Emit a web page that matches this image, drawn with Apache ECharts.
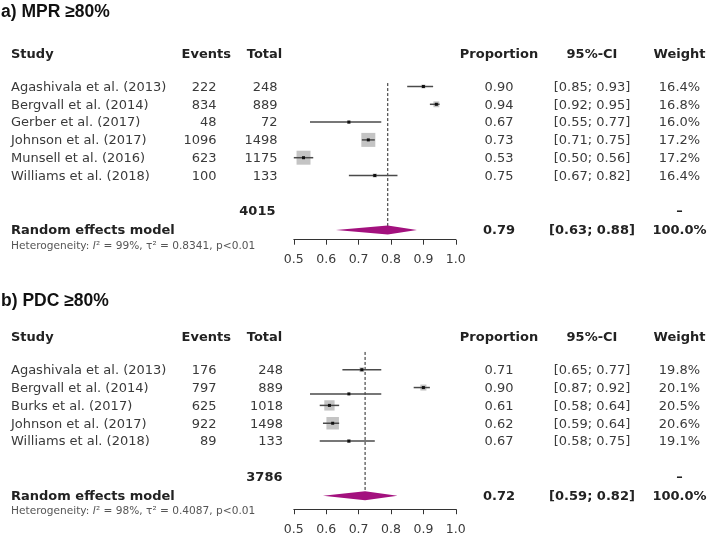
<!DOCTYPE html>
<html><head><meta charset="utf-8">
<script src="https://cdn.jsdelivr.net/npm/echarts@6/dist/echarts.min.js"></script>
<style>html,body{margin:0;padding:0;background:#fff}#c{width:709px;height:537px}</style>
</head><body><div id="c"></div>
<script>
// ---------- DATA (panel a: MPR >= 80%) ----------
const mprStudies = ['Agashivala et al. (2013)', 'Bergvall et al. (2014)', 'Gerber et al. (2017)', 'Johnson et al. (2017)', 'Munsell et al. (2016)', 'Williams et al. (2018)'];
const mprEvents = [222, 834, 48, 1096, 623, 100];
const mprTotals = [248, 889, 72, 1498, 1175, 133];
const mprProp = [0.90, 0.94, 0.67, 0.73, 0.53, 0.75];
const mprLower = [0.85, 0.92, 0.55, 0.71, 0.50, 0.67];
const mprUpper = [0.93, 0.95, 0.77, 0.75, 0.56, 0.82];
const mprWeight = [16.4, 16.8, 16.0, 17.2, 17.2, 16.4];
const mprModel = [0.79, 0.63, 0.88];       // estimate, lower, upper
const mprTotalN = 4015;
const mprHet = ['99%', '0.8341', 'p<0.01'];

// ---------- DATA (panel b: PDC >= 80%) ----------
const pdcStudies = ['Agashivala et al. (2013)', 'Bergvall et al. (2014)', 'Burks et al. (2017)', 'Johnson et al. (2017)', 'Williams et al. (2018)'];
const pdcEvents = [176, 797, 625, 922, 89];
const pdcTotals = [248, 889, 1018, 1498, 133];
const pdcProp = [0.71, 0.90, 0.61, 0.62, 0.67];
const pdcLower = [0.65, 0.87, 0.58, 0.59, 0.58];
const pdcUpper = [0.77, 0.92, 0.64, 0.64, 0.75];
const pdcWeight = [19.8, 20.1, 20.5, 20.6, 19.1];
const pdcModel = [0.72, 0.59, 0.82];
const pdcTotalN = 3786;
const pdcHet = ['98%', '0.4087', 'p<0.01'];
// stray interval visible in the reference image of panel b
const pdcStray = [0.67, 0.55, 0.77];

const axisTicks = [0.5, 0.6, 0.7, 0.8, 0.9, 1.0];

// ---------- LAYOUT ----------
const FONT = "'DejaVu Sans', Verdana, sans-serif";
const TXT = '#3a3a3a';
const HDR = '#222';
const panels = [
  { title: 'a) MPR \u226580%', titleTop: 3, studies: mprStudies, events: mprEvents, totals: mprTotals,
    prop: mprProp, lower: mprLower, upper: mprUpper, weight: mprWeight, model: mprModel,
    totalN: mprTotalN, het: mprHet, row0: 87.5, step: 17.8, yMax: 8.55, maxSide: 14,
    totalRight: 277.5, totalNRight: 275.5, dashStart: -0.25, stray: null },
  { title: 'b) PDC \u226580%', titleTop: 292, studies: pdcStudies, events: pdcEvents, totals: pdcTotals,
    prop: pdcProp, lower: pdcLower, upper: pdcUpper, weight: pdcWeight, model: pdcModel,
    totalN: pdcTotalN, het: pdcHet, row0: 370.7, step: 17.85, yMax: 7.76, maxSide: 12.5,
    totalRight: 283, totalNRight: 282.5, dashStart: -1.05, stray: pdcStray, strayRow: 1.3 }
];
const YMIN = -3;
const PLOT_LEFT = 293.8, PLOT_W = 162;
const X_STUDY = 11, X_EVENTS_R = 216.5, X_EVENTS_H = 206.3, X_TOTAL_H = 264.5;
const X_PROP = 499, X_CI = 592, X_WEIGHT = 679.5;

function txt(x, y, s, align, bold, size, color) {
  return { type: 'text', style: { x: x, y: y, text: s, align: align, verticalAlign: 'middle',
    font: (bold ? 'bold ' : '') + (size || 13) + 'px ' + FONT, fill: color || (bold ? HDR : TXT) } };
}
function ci(lo, hi) { return '[' + lo.toFixed(2) + '; ' + hi.toFixed(2) + ']'; }

const grids = [], xAxes = [], yAxes = [], series = [], titles = [];
panels.forEach(function (P, k) {
  const n = P.studies.length;
  const gTop = P.row0 + YMIN * P.step;
  grids.push({ left: PLOT_LEFT, width: PLOT_W, top: gTop, height: (P.yMax - YMIN) * P.step });
  xAxes.push({ gridIndex: k, type: 'value', min: axisTicks[0], max: axisTicks[axisTicks.length - 1], interval: 0.1,
    position: 'bottom',
    axisLine: { show: true, onZero: false, lineStyle: { color: '#333', width: 1 } },
    axisTick: { show: true, inside: false, length: 5, lineStyle: { color: '#333', width: 1 } },
    axisLabel: { show: true, margin: 14, fontFamily: FONT, fontSize: 12.5, color: TXT,
      showMinLabel: true, showMaxLabel: true, formatter: function (v) { return v.toFixed(1); } },
    splitLine: { show: false } });
  yAxes.push({ gridIndex: k, type: 'value', inverse: true, min: YMIN, max: P.yMax, show: false });
  titles.push({ text: P.title, left: 1, top: P.titleTop, padding: 0,
    textStyle: { fontFamily: "'Liberation Sans', Arial, sans-serif", fontWeight: 'bold', fontSize: 17.5, color: '#111' } });

  // box sizes from inverse-variance (n p (1-p)) of each study
  const w = P.events.map(function (e, i) { const p = e / P.totals[i]; return P.totals[i] * p * (1 - p); });
  const wMax = Math.max.apply(null, w);
  const sides = w.map(function (v) { return P.maxSide * Math.sqrt(v / wMax); });

  // panel-level items: header, dashed line, totals, diamond, model row
  series.push({ type: 'custom', xAxisIndex: k, yAxisIndex: k, clip: false, z: 1,
    data: [[P.model[0], P.model[1], P.model[2], n + 2]],
    renderItem: function (params, api) {
      const est = api.value(0), lo = api.value(1), hi = api.value(2), mRow = api.value(3);
      const c = api.coord([est, mRow]), cl = api.coord([lo, mRow]), ch = api.coord([hi, mRow]);
      const top = api.coord([est, P.dashStart]);
      const yH = api.coord([est, -1.85])[1];
      const yT = api.coord([est, n + 1])[1];
      const h = 4.5;
      const ch2 = [];
      ch2.push({ type: 'line', shape: { x1: c[0], y1: top[1], x2: c[0], y2: c[1] },
        style: { stroke: '#222', lineWidth: 1, lineDash: [3, 2] } });
      ch2.push({ type: 'polygon', shape: { points: [[cl[0], c[1]], [c[0], c[1] - h], [ch[0], c[1]], [c[0], c[1] + h]] },
        style: { fill: '#a3117e', stroke: null } });
      // header
      ch2.push(txt(X_STUDY, yH, 'Study', 'left', true));
      ch2.push(txt(X_EVENTS_H, yH, 'Events', 'center', true));
      ch2.push(txt(X_TOTAL_H, yH, 'Total', 'center', true));
      ch2.push(txt(X_PROP, yH, 'Proportion', 'center', true));
      ch2.push(txt(X_CI, yH, '95%-CI', 'center', true));
      ch2.push(txt(X_WEIGHT, yH, 'Weight', 'center', true));
      // totals row
      ch2.push(txt(P.totalNRight, yT, String(P.totalN), 'right', true));
      ch2.push(txt(X_WEIGHT, yT, '\u2013', 'center', true));
      // model row
      ch2.push(txt(X_STUDY, c[1] + 1, 'Random effects model', 'left', true));
      ch2.push(txt(X_PROP, c[1] + 1, est.toFixed(2), 'center', true));
      ch2.push(txt(X_CI, c[1] + 1, ci(lo, hi), 'center', true));
      ch2.push(txt(X_WEIGHT, c[1] + 1, '100.0%', 'center', true));
      ch2.push({ type: 'text', style: { x: X_STUDY, y: c[1] + 16, verticalAlign: 'middle', align: 'left',
        text: 'Heterogeneity: {i|I}\u00b2 = ' + P.het[0] + ', \u03c4\u00b2 = ' + P.het[1] + ', ' + P.het[2],
        font: '10.6px ' + FONT, fill: '#555',
        rich: { i: { fontStyle: 'italic', font: 'italic 10.6px ' + FONT, fill: '#555' } } } });
      return { type: 'group', children: ch2 };
    } });

  // study rows
  series.push({ type: 'custom', xAxisIndex: k, yAxisIndex: k, clip: false, z: 2,
    data: P.prop.map(function (p, i) { return [p, P.lower[i], P.upper[i], i, sides[i]]; }),
    renderItem: function (params, api) {
      const i = params.dataIndex;
      const est = api.value(0), lo = api.value(1), hi = api.value(2), row = api.value(3), s = api.value(4);
      const c = api.coord([est, row]), cl = api.coord([lo, row]), ch = api.coord([hi, row]);
      const y = c[1] - 1;
      return { type: 'group', children: [
        { type: 'rect', shape: { x: c[0] - s / 2, y: y - s / 2, width: s, height: s }, style: { fill: '#c4c4c4' } },
        { type: 'line', shape: { x1: cl[0], y1: y, x2: ch[0], y2: y }, style: { stroke: '#4a4a4a', lineWidth: 1.5 } },
        { type: 'rect', shape: { x: c[0] - 1.5, y: y - 1.5, width: 3, height: 3 }, style: { fill: '#111' } },
        txt(X_STUDY, c[1], P.studies[i], 'left'),
        txt(X_EVENTS_R, c[1], String(P.events[i]), 'right'),
        txt(P.totalRight, c[1], String(P.totals[i]), 'right'),
        txt(X_PROP, c[1], est.toFixed(2), 'center'),
        txt(X_CI, c[1], ci(lo, hi), 'center'),
        txt(X_WEIGHT, c[1], P.weight[i].toFixed(1) + '%', 'center')
      ] };
    } });

  if (P.stray) {
    series.push({ type: 'custom', xAxisIndex: k, yAxisIndex: k, clip: false, z: 2,
      data: [[P.stray[0], P.stray[1], P.stray[2], P.strayRow]],
      renderItem: function (params, api) {
        const row = api.value(3);
        const c = api.coord([api.value(0), row]), cl = api.coord([api.value(1), row]), ch = api.coord([api.value(2), row]);
        return { type: 'group', children: [
          { type: 'line', shape: { x1: cl[0], y1: c[1], x2: ch[0], y2: c[1] }, style: { stroke: '#4a4a4a', lineWidth: 1.5 } },
          { type: 'rect', shape: { x: c[0] - 1.5, y: c[1] - 1.5, width: 3, height: 3 }, style: { fill: '#111' } }
        ] };
      } });
  }
});

const chart = echarts.init(document.getElementById('c'), null, { renderer: 'canvas' });
chart.setOption({
  backgroundColor: '#fff',
  animation: false,
  title: titles,
  grid: grids,
  xAxis: xAxes,
  yAxis: yAxes,
  series: series
});
</script></body></html>
